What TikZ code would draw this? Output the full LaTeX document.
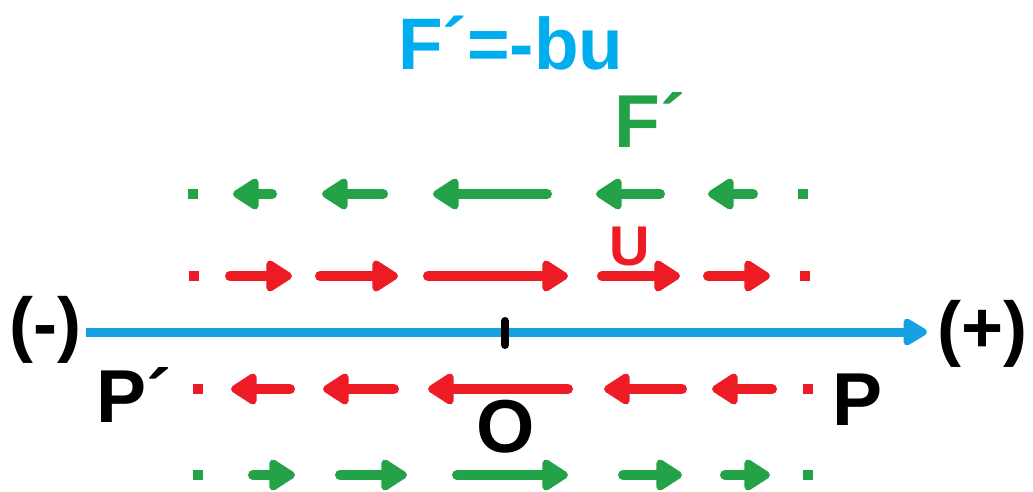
\documentclass[tikz,border=0pt]{standalone}
\usepackage{fontspec}
\setmainfont{Liberation Sans}
\usetikzlibrary{arrows.meta}
\definecolor{titlecyan}{RGB}{0,174,239}
\definecolor{axisblue}{RGB}{20,160,225}
\definecolor{vgreen}{RGB}{36,162,72}
\definecolor{vred}{RGB}{237,28,36}
\tikzset{
  vec/.style={line width=10pt, line cap=round, -{Triangle[length=29pt,width=35pt,round]}},
  gvec/.style={vec, draw=vgreen, fill=vgreen},
  rvec/.style={vec, draw=vred, fill=vred},
  dotbox/.style={minimum size=10pt, inner sep=0pt, draw=none},
  lbl/.style={inner sep=0pt, anchor=base west},
  big/.style={lbl, font=\bfseries\fontsize{75}{80}\selectfont},
}
\begin{document}
\begin{tikzpicture}[x=1pt,y=-1pt]
\useasboundingbox (0,0) rectangle (1033,492);

% title and labels
\node[lbl, text=titlecyan, font=\bfseries\fontsize{73}{78}\selectfont] (title) at (398,70) {F´=-bu};
\node[big, text=vgreen] (Flbl) at (614,147) {F´};
\node[lbl, text=vred, font=\bfseries\fontsize{56}{60}\selectfont] (Ulbl) at (609,265) {U};
\node[lbl, font=\bfseries\fontsize{72}{76}\selectfont] (minus) at (9,348) {(-)};
\node[lbl, font=\bfseries\fontsize{72}{76}\selectfont] (plus) at (937,352) {(+)};
\node[big] (Pp) at (96,422) {P´};
\node[big] (P) at (832,425) {P};
\node[big] (O) at (476,452) {O};

% axis
\coordinate (axL) at (86,332);
\coordinate (axR) at (927,332);
\draw[axisblue, line width=9pt, -{Triangle[length=27pt,width=30pt,round]}] (axL) -- (axR);
\coordinate (tickT) at (505,321);
\coordinate (tickB) at (505,345);
\draw[black, line width=8pt, line cap=round] (tickT) -- (tickB);

% green top row (F')
\node[dotbox, fill=vgreen] (gt0) at (193,194) {};
\node[dotbox, fill=vgreen] (gt6) at (803,194) {};
\draw[gvec] (272,194) -- (233,194);
\draw[gvec] (383,194) -- (322,194);
\draw[gvec] (547,194) -- (433,194);
\draw[gvec] (660,194) -- (596,194);
\draw[gvec] (753,194) -- (708,194);

% red top row (u)
\node[dotbox, fill=vred] (rt0) at (194,276) {};
\node[dotbox, fill=vred] (rt6) at (805,276) {};
\draw[rvec] (230,276) -- (292,276);
\draw[rvec] (320,276) -- (398,276);
\draw[rvec] (428,276) -- (568,276);
\draw[rvec] (602,276) -- (680,276);
\draw[rvec] (708,276) -- (770,276);

% red bottom row
\node[dotbox, fill=vred] (rb0) at (198,389) {};
\node[dotbox, fill=vred] (rb6) at (808,389) {};
\draw[rvec] (290,389) -- (231,389);
\draw[rvec] (394,389) -- (323,389);
\draw[rvec] (568,389) -- (428,389);
\draw[rvec] (682,389) -- (604,389);
\draw[rvec] (772,389) -- (712,389);

% green bottom row
\node[dotbox, fill=vgreen] (gb0) at (198,475) {};
\node[dotbox, fill=vgreen] (gb6) at (808,475) {};
\draw[gvec] (253,475) -- (295,475);
\draw[gvec] (340,475) -- (407,475);
\draw[gvec] (457,475) -- (568,475);
\draw[gvec] (623,475) -- (682,475);
\draw[gvec] (725,475) -- (770,475);
\end{tikzpicture}
\end{document}
